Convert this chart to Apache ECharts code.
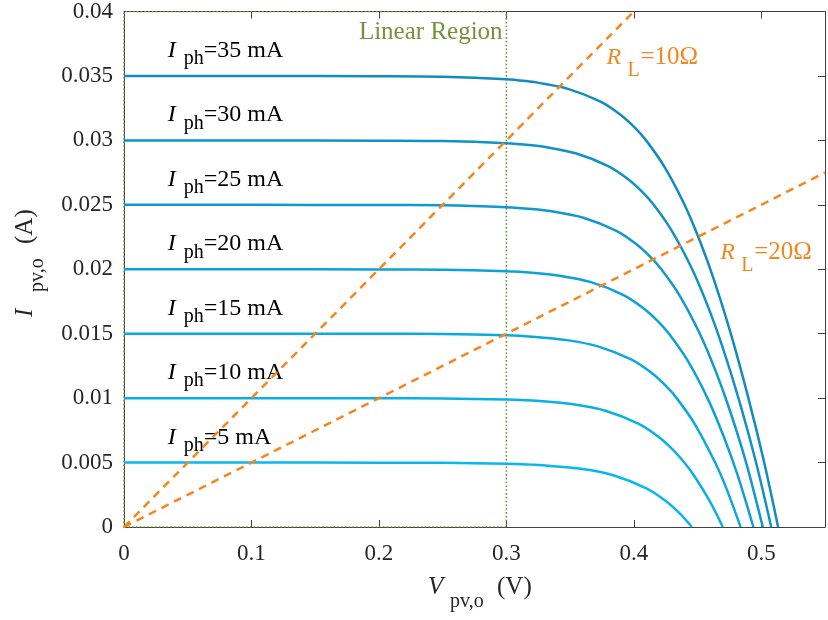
<!DOCTYPE html>
<html><head><meta charset="utf-8">
<script src="https://cdn.jsdelivr.net/npm/echarts@6/dist/echarts.min.js"></script>
<style>html,body{margin:0;padding:0;background:#fff}#c{width:828px;height:620px}</style>
</head><body><div id="c"></div>
<script>
// ---- data ----
const xTicks = [0, 0.1, 0.2, 0.3, 0.4, 0.5];
const yTicks = [0, 0.005, 0.01, 0.015, 0.02, 0.025, 0.03, 0.035, 0.04];
const iphLabels = [35, 30, 25, 20, 15, 10, 5];  // mA
const curve35 = [[0,0.035],[0.1,0.035],[0.2,0.03498],[0.25,0.03494],[0.3,0.03474],[0.32,0.03455],[0.3236,0.0345],[0.3484,0.034],[0.3739,0.033],[0.3893,0.032],[0.4006,0.031],[0.4096,0.030],[0.4237,0.028],[0.4398,0.025],[0.4526,0.022],[0.4635,0.019],[0.4761,0.015],[0.4899,0.010],[0.5023,0.005],[0.5132,0]];
const curve30 = [[0,0.030],[0.1,0.030],[0.2,0.02998],[0.25,0.02995],[0.3,0.02978],[0.32,0.02962],[0.3296,0.0295],[0.3544,0.029],[0.3799,0.028],[0.3953,0.027],[0.4066,0.026],[0.4156,0.025],[0.4297,0.023],[0.4458,0.020],[0.4586,0.017],[0.4695,0.014],[0.4821,0.010],[0.4959,0.005],[0.5078,0]];
const curve25 = [[0,0.025],[0.1,0.025],[0.2,0.02498],[0.25,0.02496],[0.3,0.02482],[0.32,0.02468],[0.3356,0.0245],[0.3604,0.024],[0.3859,0.023],[0.4013,0.022],[0.4126,0.021],[0.4216,0.020],[0.4357,0.018],[0.4518,0.015],[0.4646,0.012],[0.4755,0.009],[0.4881,0.005],[0.5012,0]];
const curve20 = [[0,0.020],[0.1,0.020],[0.2,0.01998],[0.25,0.01996],[0.3,0.01984],[0.32,0.01973],[0.3416,0.0195],[0.3664,0.019],[0.3919,0.018],[0.4073,0.017],[0.4186,0.016],[0.4276,0.015],[0.4417,0.013],[0.4578,0.010],[0.4706,0.007],[0.4815,0.004],[0.4938,0]];
const curve15 = [[0,0.015],[0.1,0.015],[0.2,0.01499],[0.25,0.01497],[0.3,0.01487],[0.32,0.01477],[0.3476,0.0145],[0.3724,0.014],[0.3979,0.013],[0.4133,0.012],[0.4246,0.011],[0.4336,0.010],[0.4477,0.008],[0.4638,0.005],[0.4726,0.003],[0.4838,0]];
const curve10 = [[0,0.010],[0.1,0.010],[0.2,0.00999],[0.25,0.00997],[0.3,0.00989],[0.32,0.00981],[0.3536,0.0095],[0.3784,0.009],[0.4039,0.008],[0.4193,0.007],[0.4306,0.006],[0.4396,0.005],[0.4472,0.004],[0.4596,0.002],[0.4698,0]];
const curve5  = [[0,0.005],[0.1,0.005],[0.2,0.00499],[0.25,0.00498],[0.3,0.00491],[0.32,0.00484],[0.3596,0.0045],[0.3844,0.004],[0.4099,0.003],[0.4253,0.002],[0.4366,0.001],[0.4456,0]];
const load10 = [[0,0],[0.55,0.055]];
const load20 = [[0,0],[0.55,0.0275]];
const linearRegion = [[0,0],[0,0.04],[0.3,0.04],[0.3,0],[0,0]];

// ---- styles ----
const curves = [curve35, curve30, curve25, curve20, curve15, curve10, curve5];
const curveColors = ['#128BBE','#1192C6','#0F99CE','#0DA1D7','#0BA9DF','#09B0E7','#07B8EF'];
const ORANGE = '#F5861F';
const GREEN = '#76923C';
const TXT = '#262626';
const FONT = '"Liberation Serif","Times New Roman",serif';

const chart = echarts.init(document.getElementById('c'), null, {renderer: 'canvas'});
const fmt = v => String(+v.toFixed(3));
const axisCommon = {
  type: 'value',
  axisLine: {show: true, onZero: false, lineStyle: {color: '#404040', width: 1}},
  axisTick: {show: true, inside: true, length: 7, lineStyle: {color: '#404040'}},
  splitLine: {show: false}
};
const series = curves.map((c, i) => ({
  type: 'line', data: c, smooth: 0.3, showSymbol: false, symbol: 'none',
  lineStyle: {color: curveColors[i], width: 2.5}, z: 3, silent: true
}));
series.push({type:'line', data: linearRegion, showSymbol:false, symbol:'none',
  lineStyle:{color: GREEN, width: 1.6, type: [1.6, 2.2]}, z: 2, silent: true});
[load10, load20].forEach(d => series.push({type:'line', data: d, showSymbol:false, symbol:'none', clip: true,
  lineStyle:{color: ORANGE, width: 2.5, type: [8, 6]}, z: 4, silent: true}));

chart.setOption({
  animation: false,
  grid: {left: 124, right: 0, top: 10, bottom: 93, containLabel: false},
  xAxis: [
    Object.assign({}, axisCommon, {min: 0, max: 0.55, interval: 0.1, position: 'bottom',
      axisLabel: {show: true, margin: 15, color: TXT, fontFamily: FONT, fontSize: 23,
        formatter: v => (xTicks.some(t => Math.abs(t - v) < 1e-9) ? fmt(v) : '')}}),
    Object.assign({}, axisCommon, {min: 0, max: 0.55, interval: 0.1, position: 'top', axisLabel: {show: false}})
  ],
  yAxis: [
    Object.assign({}, axisCommon, {min: 0, max: 0.04, interval: 0.005, position: 'left',
      axisLabel: {show: true, margin: 11, color: TXT, fontFamily: FONT, fontSize: 23,
        formatter: v => (yTicks.some(t => Math.abs(t - v) < 1e-9) ? fmt(v) : '')}}),
    Object.assign({}, axisCommon, {min: 0, max: 0.04, interval: 0.005, position: 'right', axisLabel: {show: false}})
  ],
  series: series
});

// ---- text annotations (anchored to data, offsets in px) ----
function piece(text, dx, dy, size, italic, color) {
  return {type: 'text', x: dx, y: dy - 0.3 * size, silent: true,
    style: {text: text, fill: color, font: (italic ? 'italic ' : '') + size + 'px ' + FONT,
      textAlign: 'left', textVerticalAlign: 'middle'}};
}
function group(px, py, pieces, rotation) {
  return {type: 'group', x: px, y: py, rotation: rotation || 0, children: pieces, silent: true};
}
const graphics = [];
const labelV = 0.0343;
iphLabels.forEach(mA => {
  const p = chart.convertToPixel({xAxisIndex: 0, yAxisIndex: 0}, [labelV, mA / 1000]);
  graphics.push(group(p[0], p[1] - 18, [
    piece('I', 0, 0, 24, true, '#000'),
    piece('ph', 16, 7, 20, false, '#000'),
    piece('=' + mA + ' mA', 36, 0, 24, false, '#000')
  ]));
});
const rlLabels = [{r: 10, at: [0.3785, 0.03587]}, {r: 20, at: [0.4678, 0.02071]}];
rlLabels.forEach(l => {
  const p = chart.convertToPixel({xAxisIndex: 0, yAxisIndex: 0}, l.at);
  graphics.push(group(p[0], p[1], [
    piece('R', 0, 0, 24, true, ORANGE),
    piece('L', 21, 12, 20, false, ORANGE),
    piece('=' + l.r + 'Ω', 34, 0, 25, false, ORANGE)
  ]));
});
{
  const p = chart.convertToPixel({xAxisIndex: 0, yAxisIndex: 0}, [0.1843, 0.03782]);
  graphics.push(group(p[0], p[1], [piece('Linear Region', 0, 0, 25, false, GREEN)]));
}
// axis titles
graphics.push(group(428, 595, [
  piece('V', 0, 0, 25, true, TXT),
  piece('pv,o', 22, 13, 20, false, TXT),
  piece('(V)', 69, 0, 25, false, TXT)
]));
graphics.push(group(33, 317, [
  piece('I', 0, 0, 25, true, TXT),
  piece('pv,o', 25, 11, 20, false, TXT),
  piece('(A)', 73, 0, 25, false, TXT)
], Math.PI / 2));
chart.setOption({graphic: graphics});
</script></body></html>
